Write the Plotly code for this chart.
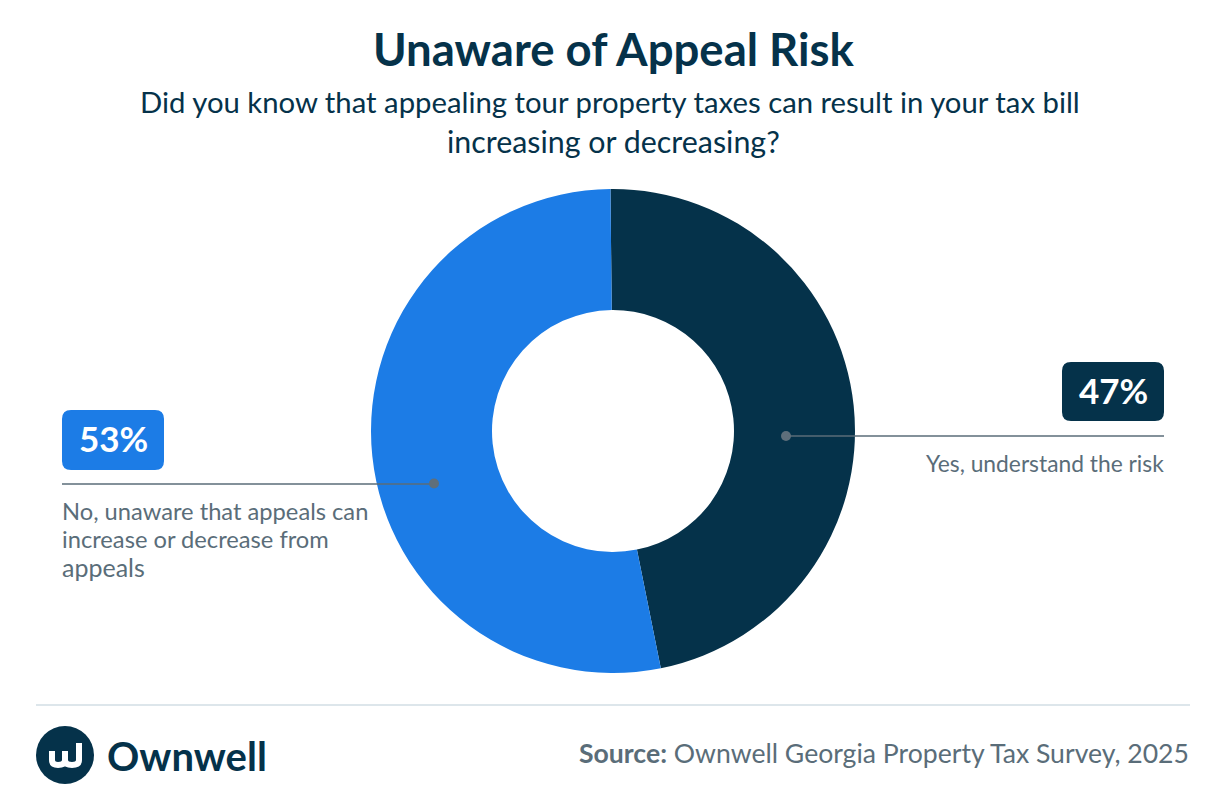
import plotly.graph_objects as go

categories = ["Yes, understand the risk", "No, unaware that appeals can<br>increase or decrease from<br>appeals"]
values = [47, 53]
value_labels = ["47%", "53%"]
colors = ["#05324A", "#1C7CE6"]

W, H = 1226, 806
FONT = "Lato"
NAVY = "#05324A"
GREY = "#5A6D79"
DOT = "#5F6F7B"

def fx(x): return x / W
def fy(y): return 1 - y / H

def rrect(x0, y0, x1, y1, r):
    P = lambda x, y: f"{fx(x):.5f},{fy(y):.5f}"
    return (f"M{P(x0+r,y0)} L{P(x1-r,y0)} Q{P(x1,y0)} {P(x1,y0+r)} L{P(x1,y1-r)} Q{P(x1,y1)} {P(x1-r,y1)} "
            f"L{P(x0+r,y1)} Q{P(x0,y1)} {P(x0,y1-r)} L{P(x0,y0+r)} Q{P(x0,y0)} {P(x0+r,y0)} Z")

cx, cy, R = 613, 431, 242
fig = go.Figure(go.Pie(
    labels=categories, values=values, hole=0.5, sort=False, direction="clockwise", rotation=-0.6,
    marker=dict(colors=colors, line=dict(width=0)), textinfo="none", hoverinfo="label+percent",
    domain=dict(x=[fx(cx - R), fx(cx + R)], y=[fy(cy + R), fy(cy - R)]), showlegend=False,
))

def line(x0, y0, x1, y1, color, width):
    return dict(type="line", xref="paper", yref="paper", x0=fx(x0), y0=fy(y0), x1=fx(x1), y1=fy(y1),
                line=dict(color=color, width=width))

def circle(x, y, r, color):
    return dict(type="circle", xref="paper", yref="paper", x0=fx(x - r), x1=fx(x + r), y0=fy(y + r), y1=fy(y - r),
                fillcolor=color, line=dict(width=0))

def logo_w():
    P = lambda x, y: f"{fx(x):.5f},{fy(y):.5f}"
    return (f"M{P(52,751)} L{P(52,760)} Q{P(52,765)} {P(58,765)} Q{P(65,765)} {P(65,760)} L{P(65,751)} "
            f"L{P(65,760)} Q{P(65,765)} {P(72,765)} Q{P(79,765)} {P(79,760)} L{P(79,743)}")

shapes = [
    dict(type="path", xref="paper", yref="paper", path=rrect(62, 410, 164, 470, 9), fillcolor=colors[1], line=dict(width=0)),
    dict(type="path", xref="paper", yref="paper", path=rrect(1062, 362, 1164, 421, 9), fillcolor=colors[0], line=dict(width=0)),
    line(62, 484, 435, 484, GREY, 1.5), circle(434, 483.5, 5, DOT),
    line(786, 436, 1164, 436, GREY, 1.5), circle(786, 436, 5, DOT),
    line(36, 705, 1190, 705, "#DDE6EB", 2),
    circle(65, 755, 29, NAVY),
    dict(type="path", xref="paper", yref="paper", path=logo_w(), line=dict(color="white", width=6)),
]

def text(x, y, s, size, color, anchor="center", bold=False, align=None):
    return dict(xref="paper", yref="paper", x=fx(x), y=fy(y), text=f"<b>{s}</b>" if bold else s, showarrow=False,
                xanchor=anchor, yanchor="middle", align=align or anchor, borderpad=0, borderwidth=0,
                font=dict(family=FONT, size=size, color=color))

annotations = [
    text(614, 49, "Unaware of Appeal Risk", 45.5, NAVY, bold=True),
    text(610, 101, "Did you know that appealing tour property taxes can result in your tax bill", 29.3, NAVY),
    text(613, 141, "increasing or decreasing?", 30.4, NAVY),
    text(113, 438, value_labels[1], 35, "white", bold=True),
    text(1113, 390, value_labels[0], 35, "white", bold=True),
    text(62, 511, "No, unaware that appeals can", 23.7, GREY, "left"),
    text(62, 539, "increase or decrease from", 23.7, GREY, "left"),
    text(62, 567, "appeals", 25, GREY, "left"),
    text(1164, 463, categories[0], 22.8, GREY, "right"),
    text(107, 756, "Ownwell", 40, NAVY, "left", bold=True),
    text(1189, 753, "<b>Source:</b> Ownwell Georgia Property Tax Survey, 2025", 26.6, GREY, "right"),
]

fig.update_layout(width=W, height=H, margin=dict(l=0, r=0, t=0, b=0), paper_bgcolor="white",
                  shapes=shapes, annotations=annotations)
fig.write_html("out.html", post_script="document.body.style.margin='0';", config=dict(displayModeBar=False))
